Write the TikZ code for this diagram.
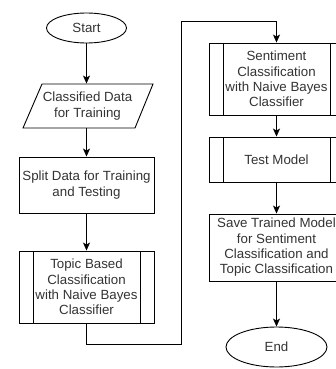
\documentclass[tikz,border=0pt]{standalone}
\usepackage{fontspec}
\setmainfont{Liberation Sans}
\usetikzlibrary{shapes.geometric,arrows.meta}
\definecolor{txt}{HTML}{333333}
\tikzset{
  base/.style={draw=black, line width=0.9pt, text=txt, align=center,
    font=\fontsize{13.3}{15.3}\selectfont, inner sep=1pt},
  term/.style={base, ellipse},
  procbox/.style={base, rectangle, minimum width=135pt},
  predef/.style={procbox, path picture={
    \draw[line width=0.9pt]
      ([xshift=14pt]path picture bounding box.north west) --
      ([xshift=14pt]path picture bounding box.south west)
      ([xshift=-14pt]path picture bounding box.north east) --
      ([xshift=-14pt]path picture bounding box.south east);}},
  arr/.style={line width=0.9pt, -{Stealth[length=8pt,width=7pt,inset=2pt]}},
  wire/.style={line width=0.9pt}
}
\begin{document}
\begin{tikzpicture}[x=1pt,y=-1pt]
  \useasboundingbox (0,0) rectangle (336,369);

  % left column
  \node[term, minimum width=80pt, minimum height=30pt] (start) at (86.5,28) {Start};
  \node[base, draw=none, minimum width=112pt, minimum height=44pt] (data) at (87.5,106)
    {Classified Data\\for Training};
  \draw[line width=0.9pt] (23,128) -- (42,84) -- (153,84) -- (135,128) -- cycle;
  \node[procbox, minimum height=56pt] (split) at (86.5,185)
    {Split Data for Training\\and Testing};
  \node[predef, minimum height=72pt] (topic) at (86.5,287)
    {Topic Based\\Classification\\with Naive Bayes\\Classifier};

  % right column
  \node[predef, minimum height=72pt] (senti) at (276.5,79)
    {Sentiment\\Classification\\with Naive Bayes\\Classifier};
  \node[predef, minimum height=45pt] (test) at (276.5,159.5) {Test Model};
  \node[procbox, minimum height=67pt] (save) at (276.5,247.5)
    {Save Trained Model\\for Sentiment\\Classification and\\Topic Classification};
  \node[term, minimum width=101pt, minimum height=40pt] (end) at (276.5,347) {End};

  % connectors
  \draw[arr] (start.south) -- (start.south |- data.north);
  \draw[arr] (split.north |- data.south) -- (split.north);
  \draw[arr] (split.south) -- (topic.north);
  \coordinate (c1) at (181,344);
  \coordinate (c2) at (181,21);
  \draw[arr] (topic.south) |- (c1) -- (c2) -| (senti.north);
  \draw[arr] (senti.south) -- (test.north);
  \draw[arr] (test.south) -- (save.north);
  \draw[arr] (save.south) -- (end.north);
\end{tikzpicture}
\end{document}
